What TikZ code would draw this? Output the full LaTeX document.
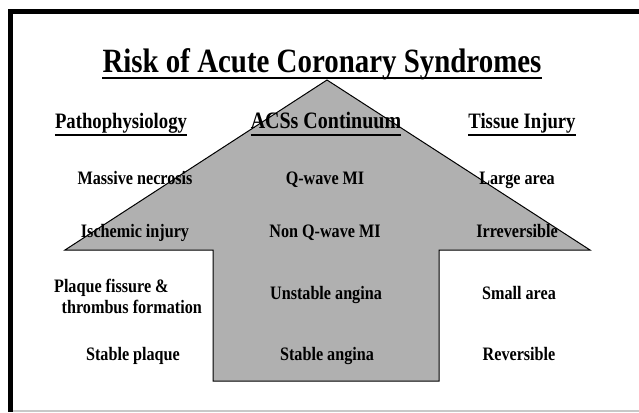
\documentclass[tikz,border=0pt]{standalone}
\usepackage{fontspec}
\setmainfont{Liberation Serif}[FakeStretch=0.85]
\usepackage{tikz}
\usetikzlibrary{positioning}
\definecolor{arrowgray}{HTML}{B0B0B0}
\definecolor{edgegray}{HTML}{C8C8C8}

\begin{document}
\begin{tikzpicture}[x=1pt, y=-1pt,
    lbl/.style={font=\bfseries\fontsize{19}{21}\selectfont, inner sep=0pt, anchor=mid},
    hdr/.style={font=\bfseries\fontsize{22}{24}\selectfont, inner sep=0pt, anchor=mid},
    uline/.style={line width=1.6pt}]
  \useasboundingbox (0,0) rectangle (639,412);
  % frame
  \fill (8,9) rectangle (639,14);
  \fill (8,9) rectangle (13,412);
  \draw[edgegray, line width=1.5pt] (13,411) -- (639,411);

  % big arrow
  \draw[fill=arrowgray, line width=1pt]
    (327,80) -- (590,250) -- (439,250) -- (439,381) -- (213,381)
    -- (213,250) -- (65,250) -- cycle;

  \node[font=\bfseries\fontsize{34}{38}\selectfont, inner sep=0pt, anchor=base] (title) at (322,72)
    {Risk of Acute Coronary Syndromes};
  \draw[uline] ([yshift=-6pt]title.base west) -- ([yshift=-6pt]title.base east);

  % column heads
  \node[hdr] (patho) at (121,126) {Pathophysiology};
  \node[hdr, font=\bfseries\fontsize{23.5}{26}\selectfont] (acs) at (326,126) {ACSs Continuum};
  \node[hdr] (tissue) at (522,126) {Tissue Injury};
  \foreach \h in {patho, acs, tissue}
    \draw[uline] ([yshift=-7pt]\h.base west) -- ([yshift=-7pt]\h.base east);

  % rows
  \node[lbl] (necrosis) at (135,182) {Massive necrosis};
  \node[lbl] (qwave) at (325,182) {Q-wave MI};
  \node[lbl] (large) at (517,182) {Large area};

  \node[lbl] (ischemic) at (135,235) {Ischemic injury};
  \node[lbl] (nonq) at (325,235) {Non Q-wave MI};
  \node[lbl] (irrev) at (517,235) {Irreversible};

  \node[lbl, align=left, anchor=center] (fissure) at (128,296)
    {Plaque fissure \&\\\hspace{0.4em}thrombus formation};
  \node[lbl] (unstable) at (326,297) {Unstable angina};
  \node[lbl] (small) at (519,297) {Small area};

  \node[lbl] (plaque) at (133,358) {Stable plaque};
  \node[lbl] (stable) at (327,358) {Stable angina};
  \node[lbl] (rev) at (519,358) {Reversible};
\end{tikzpicture}
\end{document}
